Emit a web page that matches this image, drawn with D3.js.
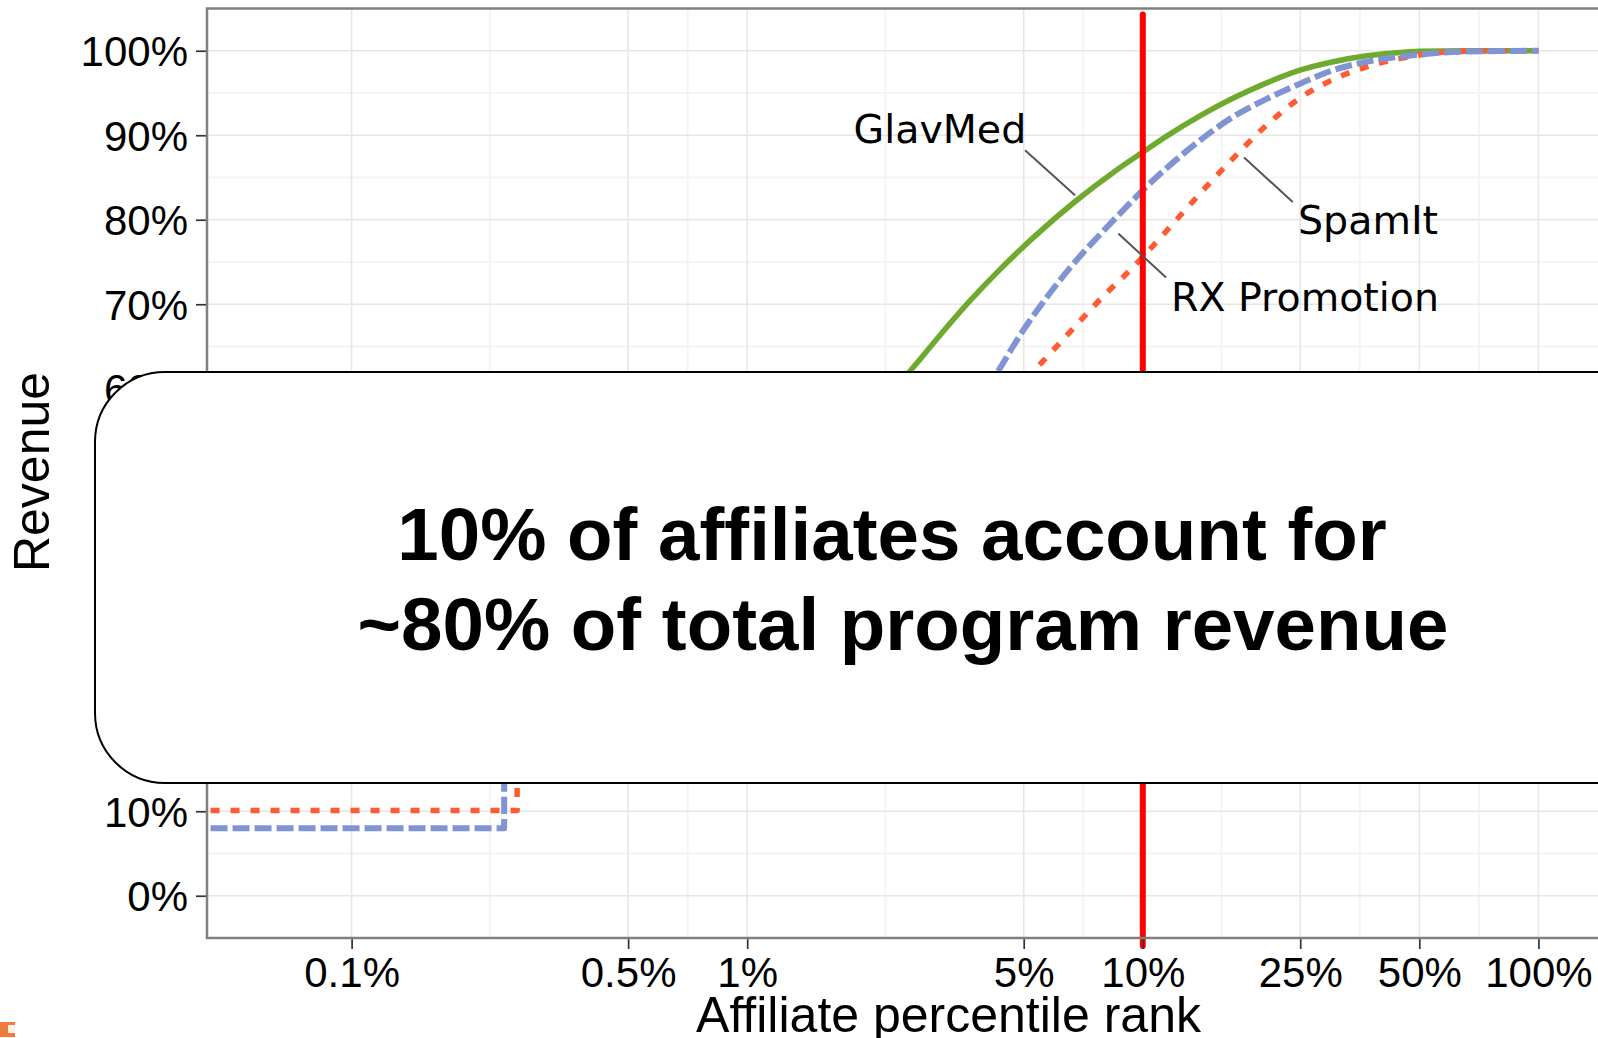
<!DOCTYPE html>
<html>
<head>
<meta charset="utf-8">
<script src="https://cdnjs.cloudflare.com/ajax/libs/d3/7.8.5/d3.min.js"></script>
<style>
  body { margin: 0; background: #fff; }
  svg { display: block; }
</style>
</head>
<body>
<svg id="chart" width="1598" height="1038"></svg>
<script>
// ---------- data ----------
const xTickValues = [0.001, 0.005, 0.01, 0.05, 0.1, 0.25, 0.5, 1];
const xTickLabels = ["0.1%", "0.5%", "1%", "5%", "10%", "25%", "50%", "100%"];
const yTickValues = [0, 0.1, 0.2, 0.3, 0.4, 0.5, 0.6, 0.7, 0.8, 0.9, 1.0];
const yTickLabels = ["0%", "10%", "20%", "30%", "40%", "50%", "60%", "70%", "80%", "90%", "100%"];
const yMinorValues = [0.05, 0.15, 0.25, 0.35, 0.45, 0.55, 0.65, 0.75, 0.85, 0.95];

const seriesNames = ["GlavMed", "RX Promotion", "SpamIt"];

const glavmedRank    = [0.00044, 0.001, 0.002, 0.005, 0.01, 0.02, 0.0258, 0.0308, 0.0364, 0.0435, 0.0532, 0.0672, 0.0859, 0.1, 0.1149, 0.1395, 0.1694, 0.2057, 0.2496, 0.303, 0.368, 0.447, 0.5, 0.659, 1.0];
const glavmedRevenue = [0.17, 0.22, 0.27, 0.36, 0.45, 0.57, 0.621, 0.664, 0.703, 0.741, 0.780, 0.821, 0.859, 0.880, 0.899, 0.923, 0.944, 0.962, 0.977, 0.987, 0.994, 0.998, 0.9993, 1.0, 1.0];

const rxRank    = [0.00044, 0.00243, 0.002431, 0.005, 0.01, 0.02, 0.032, 0.0431, 0.0492, 0.0563, 0.0657, 0.0785, 0.0939, 0.1, 0.1148, 0.1395, 0.1694, 0.2057, 0.2496, 0.303, 0.368, 0.447, 0.659, 1.0];
const rxRevenue = [0.080, 0.080, 0.24, 0.29, 0.36, 0.44, 0.53, 0.621, 0.665, 0.704, 0.744, 0.784, 0.822, 0.835, 0.861, 0.894, 0.922, 0.943, 0.961, 0.977, 0.987, 0.993, 0.999, 1.0];

const spamitRank    = [0.00044, 0.00262, 0.002621, 0.005, 0.01, 0.02, 0.035, 0.045, 0.053, 0.06, 0.07, 0.08, 0.09, 0.1, 0.1149, 0.1395, 0.1694, 0.2057, 0.2496, 0.303, 0.368, 0.447, 0.5425, 0.659, 1.0];
const spamitRevenue = [0.101, 0.101, 0.16, 0.22, 0.30, 0.42, 0.53, 0.585, 0.621, 0.648, 0.682, 0.711, 0.734, 0.756, 0.787, 0.831, 0.873, 0.912, 0.944, 0.966, 0.981, 0.991, 0.997, 0.9995, 1.0];

const cutoffRank = 0.1;
const calloutLines = ["10% of affiliates account for", "~80% of total program revenue"];

// ---------- layout ----------
const svg = d3.select("#chart");
const W = 1598, H = 1038;
const panel = { left: 207, right: 1602, top: 8.5, bottom: 938 };

const x = d3.scaleLog().domain([0.000431, 1.448]).range([panel.left, panel.right]);
const y = d3.scaleLinear().domain([-0.05, 1.05]).range([panel.bottom, panel.top]);

const sansFont = "'Liberation Sans', Arial, Helvetica, sans-serif";
const labelFont = "'DejaVu Sans', Verdana, sans-serif";

svg.append("rect").attr("width", W).attr("height", H).attr("fill", "#fff");

svg.append("defs").append("clipPath").attr("id", "panelClip")
  .append("rect")
  .attr("x", panel.left).attr("y", panel.top)
  .attr("width", panel.right - panel.left).attr("height", panel.bottom - panel.top);

// ---------- grid ----------
const grid = svg.append("g");
const xMinor = [];
for (let i = 0; i < xTickValues.length - 1; i++) xMinor.push(Math.sqrt(xTickValues[i] * xTickValues[i + 1]));

grid.selectAll(".ymin").data(yMinorValues).enter().append("line")
  .attr("x1", panel.left).attr("x2", panel.right)
  .attr("y1", d => y(d)).attr("y2", d => y(d))
  .attr("stroke", "#f4f4f4").attr("stroke-width", 2);
grid.selectAll(".xmin").data(xMinor).enter().append("line")
  .attr("y1", panel.top).attr("y2", panel.bottom)
  .attr("x1", d => x(d)).attr("x2", d => x(d))
  .attr("stroke", "#f4f4f4").attr("stroke-width", 2);
grid.selectAll(".ymaj").data(yTickValues).enter().append("line")
  .attr("x1", panel.left).attr("x2", panel.right)
  .attr("y1", d => y(d)).attr("y2", d => y(d))
  .attr("stroke", "#e6e6e6").attr("stroke-width", 1.5);
grid.selectAll(".xmaj").data(xTickValues).enter().append("line")
  .attr("y1", panel.top).attr("y2", panel.bottom)
  .attr("x1", d => x(d)).attr("x2", d => x(d))
  .attr("stroke", "#e6e6e6").attr("stroke-width", 1.5);

// ---------- series ----------
const series = [
  { name: seriesNames[0], rank: glavmedRank, rev: glavmedRevenue, color: "#6eaa2d", dash: null, width: 5.5 },
  { name: seriesNames[2], rank: spamitRank, rev: spamitRevenue, color: "#ff5a32", dash: "9,11", width: 5.5 },
  { name: seriesNames[1], rank: rxRank, rev: rxRevenue, color: "#8094d4", dash: "17,5", width: 6 }
];

const line = d3.line()
  .x(d => x(d[0]))
  .y(d => y(d[1]))
  .curve(d3.curveMonotoneX);

const lines = svg.append("g").attr("clip-path", "url(#panelClip)");
series.forEach(s => {
  const pts = s.rank.map((r, i) => [r, s.rev[i]]);
  lines.append("path")
    .attr("d", line(pts))
    .attr("fill", "none")
    .attr("stroke", s.color)
    .attr("stroke-width", s.width)
    .attr("stroke-dasharray", s.dash)
    .attr("stroke-linejoin", "round");
});

// ---------- red cutoff line ----------
svg.append("line")
  .attr("x1", x(cutoffRank)).attr("x2", x(cutoffRank))
  .attr("y1", 14.5).attr("y2", 946)
  .attr("stroke", "#ff0000").attr("stroke-width", 6)
  .attr("stroke-linecap", "round");

// ---------- series labels with leaders ----------
const annotations = [
  { text: seriesNames[0], tx: 0.0307, ty: 0.8905, l1: [0.0504, 0.8822], l2: [0.0674, 0.829] },
  { text: seriesNames[2], tx: 0.371, ty: 0.7828, l1: [0.1803, 0.8736], l2: [0.2393, 0.8211] },
  { text: seriesNames[1], tx: 0.257, ty: 0.692, l1: [0.0867, 0.7837], l2: [0.1145, 0.7316] }
];
const ann = svg.append("g");
annotations.forEach(a => {
  ann.append("line")
    .attr("x1", x(a.l1[0])).attr("y1", y(a.l1[1]))
    .attr("x2", x(a.l2[0])).attr("y2", y(a.l2[1]))
    .attr("stroke", "#555").attr("stroke-width", 2);
  ann.append("text")
    .attr("x", x(a.tx)).attr("y", y(a.ty))
    .attr("text-anchor", "middle")
    .attr("font-family", labelFont)
    .attr("font-size", 39.5)
    .attr("fill", "#000")
    .text(a.text);
});

// ---------- axes ----------
const yAxis = svg.append("g")
  .attr("transform", `translate(${panel.left},0)`)
  .call(d3.axisLeft(y).tickValues(yTickValues).tickFormat((d, i) => yTickLabels[i]).tickSize(11).tickPadding(8));
yAxis.select(".domain").remove();
yAxis.selectAll(".tick line").attr("stroke", "#333").attr("stroke-width", 1.7);
yAxis.selectAll(".tick text")
  .attr("font-family", sansFont).attr("font-size", 42).attr("fill", "#000")
  .attr("dy", "0.36em");

const xAxis = svg.append("g")
  .attr("transform", `translate(0,${panel.bottom})`)
  .call(d3.axisBottom(x).tickValues(xTickValues).tickFormat((d, i) => xTickLabels[i]).tickSize(11).tickPadding(8));
xAxis.select(".domain").remove();
xAxis.selectAll(".tick line").attr("stroke", "#333").attr("stroke-width", 1.7);
xAxis.selectAll(".tick text")
  .attr("font-family", sansFont).attr("font-size", 42).attr("fill", "#000");

// panel border
svg.append("rect")
  .attr("x", panel.left).attr("y", panel.top)
  .attr("width", panel.right - panel.left).attr("height", panel.bottom - panel.top)
  .attr("fill", "none").attr("stroke", "#808080").attr("stroke-width", 2.5);

// axis titles
svg.append("text")
  .attr("x", 948.5).attr("y", 1031.5)
  .attr("text-anchor", "middle")
  .attr("font-family", sansFont).attr("font-size", 50).attr("fill", "#000")
  .text("Affiliate percentile rank");
svg.append("text")
  .attr("transform", "translate(49,472) rotate(-90)")
  .attr("text-anchor", "middle")
  .attr("font-family", sansFont).attr("font-size", 50).attr("fill", "#000")
  .text("Revenue");

// ---------- callout box ----------
svg.append("rect")
  .attr("x", 95).attr("y", 372)
  .attr("width", 1700).attr("height", 411)
  .attr("rx", 70).attr("ry", 70)
  .attr("fill", "#fff").attr("stroke", "#000").attr("stroke-width", 2);

const calloutX = [892, 903];
const calloutY = [560, 650];
calloutLines.forEach((t, i) => {
  svg.append("text")
    .attr("x", calloutX[i]).attr("y", calloutY[i])
    .attr("text-anchor", "middle")
    .attr("font-family", sansFont).attr("font-weight", "bold")
    .attr("font-size", 74.5).attr("fill", "#000")
    .text(t);
});

// small orange fragment at bottom-left corner
svg.append("rect").attr("x", 0).attr("y", 1022).attr("width", 15).attr("height", 15).attr("fill", "#ef7a3e");
svg.append("rect").attr("x", 8).attr("y", 1025).attr("width", 7).attr("height", 8).attr("fill", "#fdf1ea");
</script>
</body>
</html>
